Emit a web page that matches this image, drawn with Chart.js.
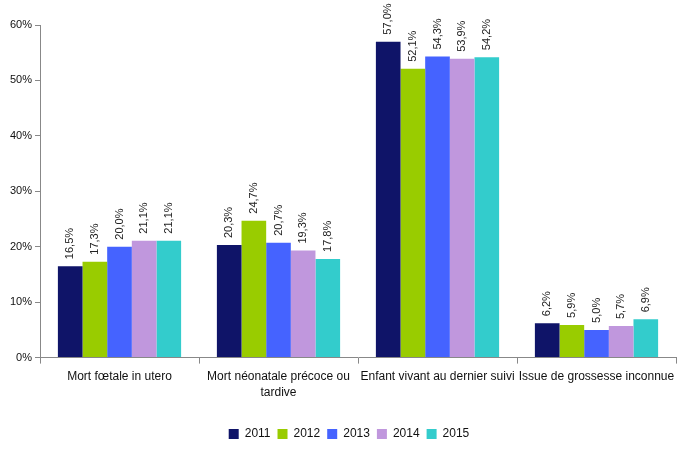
<!DOCTYPE html>
<html><head><meta charset="utf-8">
<script src="https://cdn.jsdelivr.net/npm/chart.js@4"></script>
<style>html,body{margin:0;padding:0;background:#fff}#wrap{width:691px;height:453px}</style>
</head><body><div id="wrap"><canvas id="c"></canvas></div>
<script>
const categories = [["Mort fœtale in utero"], ["Mort néonatale précoce ou", "tardive"], ["Enfant vivant au dernier suivi"], ["Issue de grossesse inconnue"]];
const years = ["2011", "2012", "2013", "2014", "2015"];
const v2011 = [16.5, 20.3, 57.0, 6.2];
const v2012 = [17.3, 24.7, 52.1, 5.9];
const v2013 = [20.0, 20.7, 54.3, 5.0];
const v2014 = [21.1, 19.3, 53.9, 5.7];
const v2015 = [21.1, 17.8, 54.2, 6.9];
const yTicks = [0, 10, 20, 30, 40, 50, 60];
const colors = ["#0F1468", "#99CC00", "#4563FF", "#C097DD", "#33CCCC"];
const series = [v2011, v2012, v2013, v2014, v2015];

const FONT = "'Liberation Sans', Arial, sans-serif";
const fmt = v => v.toFixed(1).replace('.', ',') + '%';

const labelPlugin = {
  id: 'vlabels',
  afterDatasetsDraw(chart) {
    const ctx = chart.ctx;
    ctx.save();
    ctx.font = '11px ' + FONT;
    ctx.fillStyle = '#222';
    ctx.textAlign = 'left';
    ctx.textBaseline = 'middle';
    chart.data.datasets.forEach((ds, i) => {
      chart.getDatasetMeta(i).data.forEach((bar, j) => {
        ctx.save();
        ctx.translate(bar.x, bar.y - 7);
        ctx.rotate(-Math.PI / 2);
        ctx.fillText(fmt(ds.data[j]), 0, 0);
        ctx.restore();
      });
    });
    ctx.restore();
  }
};

new Chart(document.getElementById('c'), {
  type: 'bar',
  data: {
    labels: categories,
    datasets: years.map((y, i) => ({
      label: y, data: series[i], backgroundColor: colors[i],
      borderWidth: 0, categoryPercentage: 0.775, barPercentage: 1.0
    }))
  },
  options: {
    responsive: true, maintainAspectRatio: false, animation: false,
    devicePixelRatio: 1,
    layout: { padding: { left: 7, right: 0, top: 25, bottom: 3 } },
    plugins: {
      tooltip: { enabled: false },
      legend: {
        position: 'bottom',
        labels: { boxWidth: 10, boxHeight: 10, padding: 7, color: '#111', font: { family: FONT, size: 12 } }
      }
    },
    scales: {
      x: {
        afterFit(s) { s.height += 15; },
        grid: { drawOnChartArea: false, color: '#888', tickLength: 6, offset: true },
        border: { color: '#888', width: 1 },
        ticks: { color: '#111', font: { family: FONT, size: 12, lineHeight: 1.35 }, maxRotation: 0, minRotation: 0, autoSkip: false, padding: 5 }
      },
      y: {
        min: 0, max: 60,
        afterFit(s) { s.width = 33; },
        afterBuildTicks(s) { s.ticks = yTicks.map(v => ({ value: v })); },
        grid: { drawOnChartArea: false, color: '#888', tickLength: 5 },
        border: { color: '#888', width: 1 },
        ticks: { color: '#111', font: { family: FONT, size: 11 }, padding: 3, callback: v => v + '%' }
      },
      yRight: {
        position: 'right', min: 0, max: 60,
        afterFit(s) { s.width = 15; },
        grid: { display: false },
        border: { display: false },
        ticks: { display: false }
      }
    }
  },
  plugins: [labelPlugin]
});
</script></body></html>
